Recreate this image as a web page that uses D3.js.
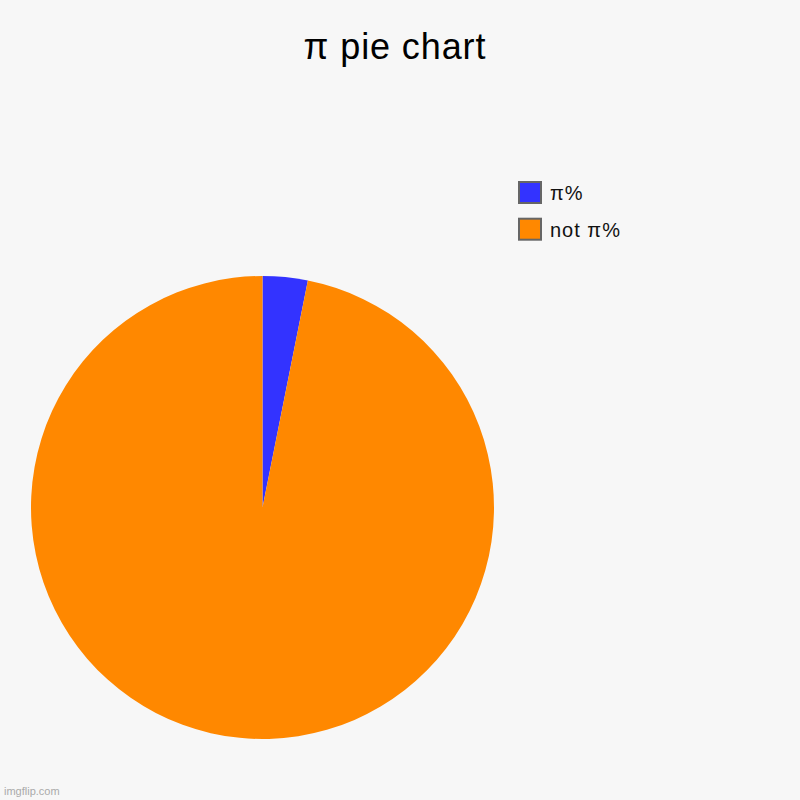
<!DOCTYPE html>
<html>
<head>
<meta charset="utf-8">
<script src="https://cdn.jsdelivr.net/npm/d3@7"></script>
<style>
  html, body { margin: 0; padding: 0; background: #f7f7f7; }
  svg { display: block; font-family: "Liberation Sans", Arial, sans-serif; }
</style>
</head>
<body>
<svg id="chart" width="800" height="800"></svg>
<script>
// chart values
var labels = ["π%", "not π%"];
var values = [3.14, 96.86];
var colors = ["#3333ff", "#ff8800"];
var title = "π pie chart";

var svg = d3.select("#chart");

svg.append("rect")
  .attr("width", 800)
  .attr("height", 800)
  .attr("fill", "#f7f7f7");

svg.append("text")
  .attr("x", 395)
  .attr("y", 59)
  .attr("text-anchor", "middle")
  .attr("font-size", 36)
  .attr("letter-spacing", 0.9)
  .attr("fill", "#000")
  .text(title);

var radius = 231.5;
var g = svg.append("g").attr("transform", "translate(262.5,507.5)");

var pie = d3.pie().sort(null).value(function(d) { return d; });
var arc = d3.arc().innerRadius(0).outerRadius(radius);

g.selectAll("path")
  .data(pie(values))
  .enter().append("path")
  .attr("d", arc)
  .attr("fill", function(d, i) { return colors[i]; });

// legend
var legend = svg.append("g").attr("transform", "translate(519,182)");
var item = legend.selectAll("g")
  .data(labels)
  .enter().append("g")
  .attr("transform", function(d, i) { return "translate(0," + (i * 36.7) + ")"; });

item.append("rect")
  .attr("width", 22)
  .attr("height", 21)
  .attr("fill", function(d, i) { return colors[i]; })
  .attr("stroke", "#666")
  .attr("stroke-width", 2);

item.append("text")
  .attr("x", 31)
  .attr("y", 18)
  .attr("font-size", 20)
  .attr("letter-spacing", 1)
  .attr("fill", "#111")
  .text(function(d) { return d; });

svg.append("text")
  .attr("x", 4)
  .attr("y", 795)
  .attr("font-size", 11)
  .attr("fill", "#aaa")
  .text("imgflip.com");
</script>
</body>
</html>
